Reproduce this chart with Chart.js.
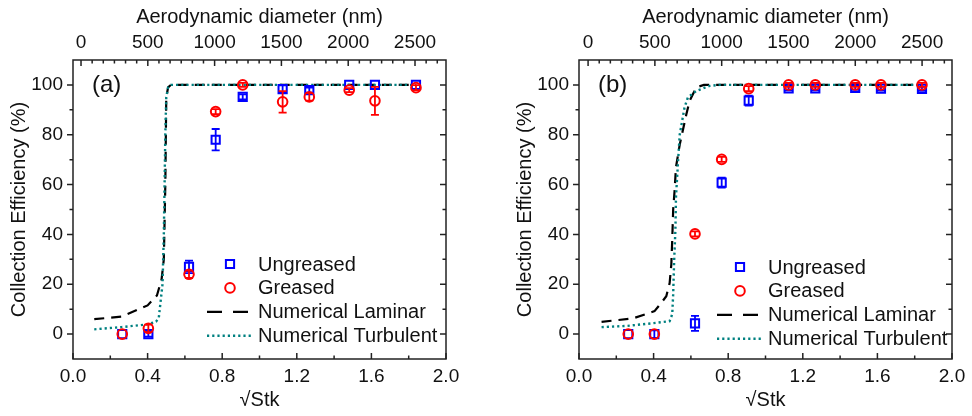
<!DOCTYPE html>
<html>
<head>
<meta charset="utf-8">
<title>Collection efficiency vs sqrt(Stk)</title>
<script src="https://cdn.jsdelivr.net/npm/chart.js@4.4.0/dist/chart.umd.min.js"></script>
<style>
  html, body { margin: 0; padding: 0; background: #fff; }
  #wrap { position: relative; width: 972px; height: 416px; overflow: hidden; }
  canvas { position: absolute; top: 0; }
  #panelA { left: 0; }
  #panelB { left: 506px; }
</style>
</head>
<body>
<div id="wrap">
  <canvas id="panelA" width="486" height="416"></canvas>
  <canvas id="panelB" width="466" height="416"></canvas>
</div>
<script>
"use strict";

// sqrt(Stk) of the measured points (300 ... 2500 nm)
const sqrtStk = [0.264, 0.404, 0.622, 0.765, 0.91, 1.124, 1.267, 1.481, 1.619, 1.839];

// panel (a)
const ungreasedA = [0, 0, 27, 78, 95.2, 98.3, 97.9, 100, 100, 100];
const ungreasedErrA = [0, 1, 2.5, 4.3, 1, 1.5, 1, 0, 0, 0];
const greasedA = [0, 2.3, 24, 89.3, 100, 93.2, 95.2, 97.9, 93.6, 98.9];
const greasedErrA = [0, 1.5, 1.5, 1, 0.8, 4.3, 1.5, 0.8, 5.6, 1];
const laminarXA = [0.114, 0.26, 0.40, 0.45, 0.475, 0.487, 0.495, 0.50, 0.51, 0.525, 1.84];
const laminarYA = [6, 7, 11.5, 15.5, 22, 30, 60, 95, 99, 100, 100];
const turbulentXA = [0.114, 0.26, 0.40, 0.445, 0.46, 0.48, 0.487, 0.495, 0.50, 0.51, 0.525, 1.84];
const turbulentYA = [1.9, 2.8, 3.9, 5, 6.5, 20, 40, 80, 95, 99, 100, 100];

// panel (b)
const ungreasedB = [0, 0, 4.3, 60.8, 93.7, 98.6, 98.6, 98.8, 98.5, 98.4];
const ungreasedErrB = [0, 1.5, 3, 2, 2, 0.8, 0.8, 0.8, 0.8, 0.8];
const greasedB = [0, 0, 40.2, 70.1, 98.5, 100, 100, 100, 100, 100];
const greasedErrB = [0, 0, 1, 1, 1, 0.8, 0.8, 0.8, 0.8, 0.8];
const laminarXB = [0.121, 0.29, 0.405, 0.441, 0.468, 0.486, 0.495, 0.50, 0.505, 0.513, 0.52, 0.54, 0.575, 0.593, 0.629, 0.67, 1.84];
const laminarYB = [4.9, 6.3, 9.2, 12.5, 15.2, 20.5, 28, 38, 50, 58, 67, 76, 88, 93.6, 99, 100, 100];
const turbulentXB = [0.121, 0.26, 0.40, 0.486, 0.50, 0.505, 0.51, 0.517, 0.52, 0.53, 0.54, 0.566, 0.584, 0.629, 0.70, 0.754, 1.84];
const turbulentYB = [2.8, 3.3, 4.4, 5.2, 8, 16, 29, 42, 55, 68, 80, 91, 95, 97.6, 99.6, 100, 100];

// axis ticks
const xMajor = [0, 0.4, 0.8, 1.2, 1.6, 2.0];
const xMinor = [0.2, 0.6, 1.0, 1.4, 1.8];
const yMajor = [0, 20, 40, 60, 80, 100];
const yMinor = [10, 30, 50, 70, 90];
const dMajor = [0, 500, 1000, 1500, 2000, 2500];
const dMinorStep = 500 / 6;

Chart.defaults.font.family = '"Liberation Sans", Arial, sans-serif';
Chart.defaults.color = '#111';

const FONT = Chart.defaults.font.family;
const pairs = (xs, ys) => xs.map((x, i) => ({ x: x, y: ys[i] }));

// error bars, drawn right after their own dataset
const errorBars = {
    id: 'errorBars',
    afterDatasetDraw(chart, args) {
        const ds = chart.data.datasets[args.index];
        if (!ds.errors) return;
        const yScale = chart.scales.y;
        const ctx = chart.ctx;
        ctx.save();
        ctx.strokeStyle = ds.borderColor;
        ctx.lineWidth = 1.8;
        ctx.beginPath();
        args.meta.data.forEach((pt, i) => {
            const err = ds.errors[i];
            if (!err) return;
            const v = ds.data[i].y;
            const top = yScale.getPixelForValue(v + err);
            const bot = yScale.getPixelForValue(v - err);
            ctx.moveTo(pt.x, top); ctx.lineTo(pt.x, bot);
            ctx.moveTo(pt.x - 4, top); ctx.lineTo(pt.x + 4, top);
            ctx.moveTo(pt.x - 4, bot); ctx.lineTo(pt.x + 4, bot);
        });
        ctx.stroke();
        ctx.restore();
    }
};

// box frame with Origin-style ticks
const frameTicks = {
    id: 'frameTicks',
    afterDraw(chart) {
        const { ctx, chartArea: a, scales } = chart;
        const line = (x1, y1, x2, y2) => { ctx.moveTo(x1, y1); ctx.lineTo(x2, y2); };
        const dMin = [];
        for (let k = 1; k * dMinorStep < scales.x2.max; k++) {
            if (k % 6) dMin.push(k * dMinorStep);
        }
        ctx.save();
        ctx.strokeStyle = '#222';
        ctx.lineWidth = 1.5;
        ctx.beginPath();
        xMajor.forEach(v => { const p = scales.x.getPixelForValue(v); line(p, a.bottom, p, a.bottom - 6); });
        xMinor.forEach(v => { const p = scales.x.getPixelForValue(v); line(p, a.bottom, p, a.bottom - 3.5); });
        dMajor.forEach(v => { const p = scales.x2.getPixelForValue(v); line(p, a.top, p, a.top + 6); });
        dMin.forEach(v => { const p = scales.x2.getPixelForValue(v); line(p, a.top, p, a.top + 3.5); });
        yMajor.forEach(v => {
            const p = scales.y.getPixelForValue(v);
            line(a.left - 6, p, a.left, p);
            line(a.right - 6, p, a.right, p);
        });
        yMinor.forEach(v => {
            const p = scales.y.getPixelForValue(v);
            line(a.left - 3.5, p, a.left, p);
            line(a.right - 3.5, p, a.right, p);
        });
        ctx.stroke();
        ctx.strokeRect(a.left, a.top, a.width, a.height);
        ctx.restore();
    }
};

// legend inside the plot + panel tag
const insetLegend = {
    id: 'insetLegend',
    afterDraw(chart, args, opts) {
        const ctx = chart.ctx;
        ctx.save();
        ctx.font = '20px ' + FONT;
        ctx.textBaseline = 'middle';
        ctx.fillStyle = '#111';
        chart.data.datasets.forEach((ds, i) => {
            const y = opts.top + i * opts.step;
            const mx = opts.left + 23;
            ctx.strokeStyle = ds.borderColor;
            if (ds.showLine) {
                ctx.lineWidth = ds.borderWidth;
                ctx.setLineDash(ds.legendDash);
                ctx.beginPath();
                ctx.moveTo(opts.left, y);
                ctx.lineTo(opts.left + 44, y);
                ctx.stroke();
                ctx.setLineDash([]);
            } else {
                ctx.lineWidth = 2;
                ctx.beginPath();
                if (ds.pointStyle === 'rect') {
                    const h = ds.pointRadius * Math.SQRT1_2;
                    ctx.rect(mx - h, y - h, 2 * h, 2 * h);
                } else {
                    ctx.arc(mx, y, ds.pointRadius, 0, Math.PI * 2);
                }
                ctx.stroke();
            }
            ctx.fillText(ds.label, opts.left + 51, y + 1);
        });
        ctx.font = '24px ' + FONT;
        ctx.fillText(opts.tag, chart.chartArea.left + opts.tagX, chart.scales.y.getPixelForValue(100));
        ctx.restore();
    }
};

const makePanel = (id, p) => {
    const ctx = document.getElementById(id).getContext('2d');
    return new Chart(ctx, {
        type: 'scatter',
        data: {
            datasets: [
                {
                    label: 'Ungreased',
                    data: pairs(sqrtStk, p.ungreased),
                    errors: p.ungreasedErr,
                    pointStyle: 'rect',
                    pointRadius: 5.8,
                    borderColor: '#0000ff',
                    backgroundColor: 'rgba(0,0,0,0)',
                    borderWidth: 2,
                    order: 1
                },
                {
                    label: 'Greased',
                    data: pairs(sqrtStk, p.greased),
                    errors: p.greasedErr,
                    pointStyle: 'circle',
                    pointRadius: 4.8,
                    borderColor: '#ff0000',
                    backgroundColor: 'rgba(0,0,0,0)',
                    borderWidth: 2,
                    order: 0
                },
                {
                    label: 'Numerical Laminar',
                    data: pairs(p.lamX, p.lamY),
                    showLine: true,
                    pointRadius: 0,
                    borderColor: '#000000',
                    borderWidth: 2.2,
                    borderDash: [10, 7],
                    legendDash: [15, 11],
                    order: 3
                },
                {
                    label: 'Numerical Turbulent',
                    data: pairs(p.turbX, p.turbY),
                    showLine: true,
                    pointRadius: 0,
                    borderColor: '#008080',
                    borderWidth: 2.4,
                    borderDash: [2.2, 3],
                    legendDash: [2.2, 3],
                    order: 2
                }
            ]
        },
        options: {
            responsive: false,
            animation: false,
            devicePixelRatio: 1,
            events: [],
            layout: { padding: { left: 0, right: p.padRight, top: 0, bottom: 0 } },
            plugins: {
                legend: { display: false },
                tooltip: { enabled: false },
                insetLegend: { left: p.legendLeft, top: p.legendTop, step: 23.9, tag: p.tag, tagX: 19 }
            },
            scales: {
                x: {
                    type: 'linear',
                    position: 'bottom',
                    min: 0,
                    max: 2,
                    afterBuildTicks: s => { s.ticks = xMajor.map(v => ({ value: v })); },
                    afterFit: s => { s.height = 57; s.paddingLeft = 0; s.paddingRight = 0; },
                    grid: { display: false, drawTicks: false },
                    border: { display: false },
                    ticks: { padding: 6, font: { size: 19 }, maxRotation: 0, autoSkip: false, callback: v => v.toFixed(1) },
                    title: { display: true, text: '√Stk', font: { size: 20 }, padding: { top: 0, bottom: 4 } }
                },
                x2: {
                    type: 'linear',
                    position: 'top',
                    min: p.dRange[0],
                    max: p.dRange[1],
                    afterBuildTicks: s => { s.ticks = dMajor.map(v => ({ value: v })); },
                    afterFit: s => { s.height = 60; s.paddingLeft = 0; s.paddingRight = 0; },
                    grid: { display: false, drawTicks: false },
                    border: { display: false },
                    ticks: { padding: 6, font: { size: 19 }, maxRotation: 0, autoSkip: false, callback: v => String(v) },
                    title: { display: true, text: 'Aerodynamic diameter (nm)', font: { size: 20 }, padding: { top: 5, bottom: 0 } }
                },
                y: {
                    type: 'linear',
                    position: 'left',
                    min: -10,
                    max: 110,
                    afterBuildTicks: s => { s.ticks = yMajor.map(v => ({ value: v })); },
                    afterFit: s => { s.width = 73; s.paddingTop = 0; s.paddingBottom = 0; },
                    grid: { display: false, drawTicks: false },
                    border: { display: false },
                    ticks: { padding: 10, font: { size: 19 }, callback: v => String(v) },
                    title: { display: true, text: 'Collection Efficiency (%)', font: { size: 20 }, padding: { top: 7, bottom: 0 } }
                }
            }
        },
        plugins: [errorBars, frameTicks, insetLegend]
    });
};

makePanel('panelA', {
    tag: '(a)',
    ungreased: ungreasedA, ungreasedErr: ungreasedErrA,
    greased: greasedA, greasedErr: greasedErrA,
    lamX: laminarXA, lamY: laminarYA,
    turbX: turbulentXA, turbY: turbulentYA,
    dRange: [-60, 2732],
    padRight: 40,
    legendLeft: 207, legendTop: 264
});

makePanel('panelB', {
    tag: '(b)',
    ungreased: ungreasedB, ungreasedErr: ungreasedErrB,
    greased: greasedB, greasedErr: greasedErrB,
    lamX: laminarXB, lamY: laminarYB,
    turbX: turbulentXB, turbY: turbulentYB,
    dRange: [-68, 2724],
    padRight: 20,
    legendLeft: 211, legendTop: 267
});
</script>
</body>
</html>
